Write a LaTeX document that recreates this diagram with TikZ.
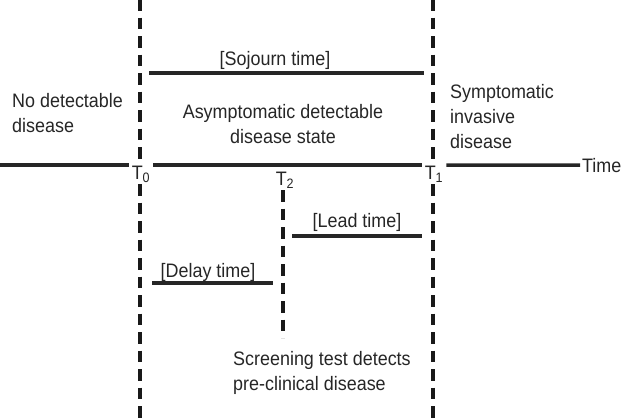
\documentclass[tikz,border=0pt]{standalone}
\usepackage{fontspec}
\setmainfont[FakeStretch=0.92]{Liberation Sans}
\usetikzlibrary{positioning}

\tikzset{
  txt/.style={inner sep=0pt, text=black!85, font=\fontsize{19.5}{25}\selectfont},
  tlab/.style={txt, inner xsep=3pt, inner ysep=1pt, anchor=north, fill=white},
  divider/.style={line width=4pt, dash pattern=on 11.5pt off 7pt, black!90},
  bar/.style={line width=3.5pt, black!85},
}

\begin{document}
\begin{tikzpicture}[x=1pt, y=-1pt]
  \useasboundingbox (0,0) rectangle (625,418);

  % vertical dividers
  \draw[divider] (140,-1) -- (140,420);
  \draw[divider] (433,-1) -- (433,420);
  \draw[divider] (283,190) -- (283,338);

  % time axis
  \coordinate (a0) at (0,165);
  \node[tlab] (t0) at (141,165) {T\textsubscript{0}};
  \node[tlab] (t1) at (434,165) {T\textsubscript{1}};
  \node[tlab, inner xsep=0pt] (t2) at (285,171) {T\textsubscript{2}};
  \node[txt, anchor=base west, inner xsep=2pt] (time) at (580,172) {Time};
  \draw[bar] (a0) -- (t0.west |- a0);
  \draw[bar] (t0.east |- a0) -- (t1.west |- a0);
  \draw[bar] (t1.east |- a0) -- (time.west);

  % states
  \node[txt, anchor=north west, align=left] (nodis) at (12,93) {No detectable\\disease};
  \node[txt, anchor=north, align=center] (asym) at (283,104) {Asymptomatic detectable\\disease state};
  \node[txt, anchor=north west, align=left] (sympt) at (450,84) {Symptomatic\\invasive\\disease};

  % intervals
  \coordinate (soj1) at (149,73);
  \coordinate (soj2) at (424,73);
  \draw[bar] (soj1) -- (soj2);
  \node[txt, anchor=base] (soj) at (275,65) {[Sojourn time]};

  \coordinate (lead1) at (292,236);
  \coordinate (lead2) at (422,236);
  \draw[bar] (lead1) -- (lead2);
  \node[txt, anchor=base] (lead) at (357,227) {[Lead time]};

  \coordinate (delay1) at (152,283);
  \coordinate (delay2) at (273,283);
  \draw[bar] (delay1) -- (delay2);
  \node[txt, anchor=base] (delay) at (208,277) {[Delay time]};

  \node[txt, anchor=north west, align=left] (screen) at (233,351) {Screening test detects\\pre-clinical disease};
\end{tikzpicture}
\end{document}
